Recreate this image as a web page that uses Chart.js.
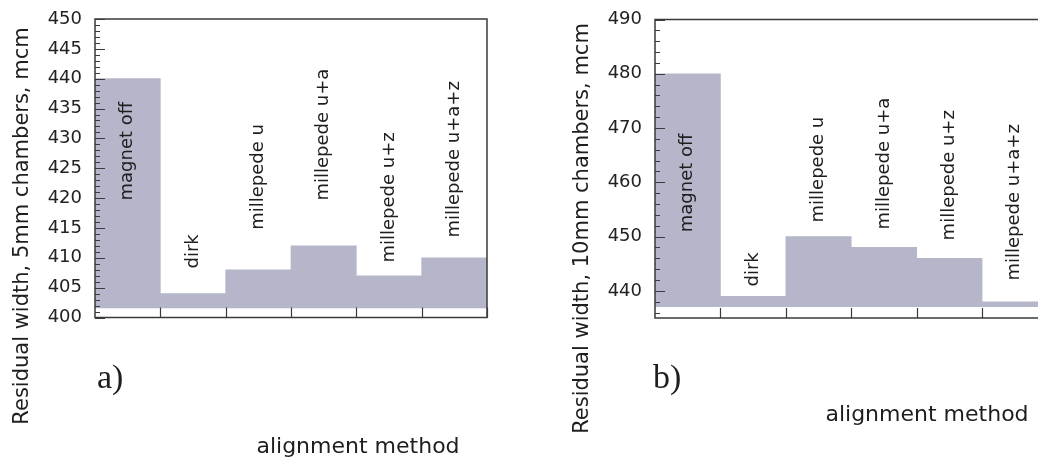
<!DOCTYPE html>
<html><head><meta charset="utf-8">
<script src="https://cdn.jsdelivr.net/npm/chart.js@4/dist/chart.umd.min.js"></script>
<style>
html,body{margin:0;padding:0;background:#fff;overflow:hidden;width:1038px;height:457px;}
#wrap{position:relative;width:1038px;height:457px;overflow:hidden;background:#fff;}
#c1{position:absolute;left:0;top:0;width:520px;height:457px;}
#c2{position:absolute;left:520px;top:0;width:560px;height:457px;}
</style></head><body>
<div id="wrap"><canvas id="c1" width="520" height="457"></canvas><canvas id="c2" width="560" height="457"></canvas></div>
<script>
// ---- data ----
const categories = ['magnet off', 'dirk', 'millepede u', 'millepede u+a', 'millepede u+z', 'millepede u+a+z'];
const width5mm  = [440, 404, 408, 412, 407, 410];
const width10mm = [480, 439, 450, 448, 446, 438];
const ticks5mm  = [400, 405, 410, 415, 420, 425, 430, 435, 440, 445, 450];
const ticks10mm = [440, 450, 460, 470, 480, 490];
// value (in axis units) where each rotated category label starts
const labelAnchor5mm  = [419.6, 408.2, 414.7, 419.6, 409.2, 413.4];
const labelAnchor10mm = [450.8, 440.8, 452.6, 451.3, 449.3, 441.9];

const FONT = '"DejaVu Sans", sans-serif';
const BAR = '#b5b6c9';

const decor = {
  id: 'decor',
  afterDatasetsDraw(chart, args, o) {
    const {ctx, chartArea: a} = chart;
    const x = chart.scales.x, y = chart.scales.y;
    ctx.save();
    // frame
    ctx.strokeStyle = '#3a3a3a';
    ctx.lineWidth = 1.5;
    ctx.strokeRect(a.left, a.top, a.right - a.left, a.bottom - a.top);
    // inner y ticks
    ctx.beginPath();
    const start = Math.ceil(y.min / o.minorStep) * o.minorStep;
    for (let v = start; v <= y.max + 1e-9; v += o.minorStep) {
      const py = Math.round(y.getPixelForValue(v)) + 0.5;
      const len = (Math.round(v) % o.majorStep === 0) ? 10 : 5;
      ctx.moveTo(a.left, py); ctx.lineTo(a.left + len, py);
    }
    // category boundary ticks on x axis
    for (let i = 0; i < chart.data.labels.length; i++) {
      const px = Math.round(x.getPixelForValue(i + 0.5)) + 0.5;
      ctx.moveTo(px, a.bottom); ctx.lineTo(px, a.bottom - 10);
    }
    ctx.lineWidth = 1.2;
    ctx.stroke();
    // rotated category labels
    ctx.fillStyle = '#1e1e1e';
    ctx.font = '18px ' + FONT;
    ctx.textAlign = 'left';
    ctx.textBaseline = 'middle';
    chart.data.labels.forEach((lab, i) => {
      const px = x.getPixelForValue(i), py = y.getPixelForValue(o.anchors[i]);
      ctx.save(); ctx.translate(px, py); ctx.rotate(-Math.PI / 2); ctx.fillText(lab, 0, 0); ctx.restore();
    });
    // free texts
    o.texts.forEach(t => {
      ctx.save();
      ctx.font = t.font;
      ctx.fillStyle = '#1e1e1e';
      ctx.textAlign = t.align;
      ctx.textBaseline = t.baseline;
      ctx.translate(t.x, t.y);
      if (t.rot) ctx.rotate(-Math.PI / 2);
      ctx.fillText(t.text, 0, 0);
      ctx.restore();
    });
    ctx.restore();
  }
};

function makeChart(id, values, tickVals, min, max, base, anchors, minorStep, majorStep, axisW, pad, texts) {
  return new Chart(document.getElementById(id), {
    type: 'bar',
    data: {
      labels: categories,
      datasets: [{
        data: values,
        backgroundColor: BAR,
        borderWidth: 0,
        base: base,
        categoryPercentage: 1.0,
        barPercentage: 1.0
      }]
    },
    options: {
      responsive: false,
      animation: false,
      devicePixelRatio: 1,
      layout: {padding: pad},
      plugins: {
        legend: {display: false},
        tooltip: {enabled: false},
        decor: {anchors: anchors, minorStep: minorStep, majorStep: majorStep, texts: texts}
      },
      scales: {
        x: {display: false, offset: true},
        y: {
          min: min, max: max,
          afterBuildTicks: s => { s.ticks = tickVals.map(v => ({value: v})); },
          afterFit: s => { s.width = axisW; },
          grid: {display: false},
          border: {display: false},
          ticks: {color: '#222', font: {family: FONT, size: 18}, padding: 5}
        }
      }
    },
    plugins: [decor]
  });
}

makeChart('c1', width5mm, ticks5mm, 400, 450, 401.6, labelAnchor5mm, 1, 5, 95,
  {left: 0, top: 19, right: 33, bottom: 139.5},
  [
    {text: 'Residual width, 5mm chambers, mcm', x: 23, y: 226, rot: true, font: '21px ' + FONT, align: 'center', baseline: 'middle'},
    {text: 'alignment method', x: 358, y: 453, font: '22px ' + FONT, align: 'center', baseline: 'alphabetic'},
    {text: 'a)', x: 97, y: 388, font: '34px "Liberation Serif", serif', align: 'left', baseline: 'alphabetic'}
  ]);

makeChart('c2', width10mm, ticks10mm, 435, 490, 437.1, labelAnchor10mm, 2, 10, 135,
  {left: 0, top: 19.5, right: 32.5, bottom: 139},
  [
    {text: 'Residual width, 10mm chambers, mcm', x: 63, y: 228.5, rot: true, font: '21px ' + FONT, align: 'center', baseline: 'middle'},
    {text: 'alignment method', x: 407, y: 421, font: '22px ' + FONT, align: 'center', baseline: 'alphabetic'},
    {text: 'b)', x: 133, y: 388, font: '34px "Liberation Serif", serif', align: 'left', baseline: 'alphabetic'}
  ]);
</script>
</body></html>
